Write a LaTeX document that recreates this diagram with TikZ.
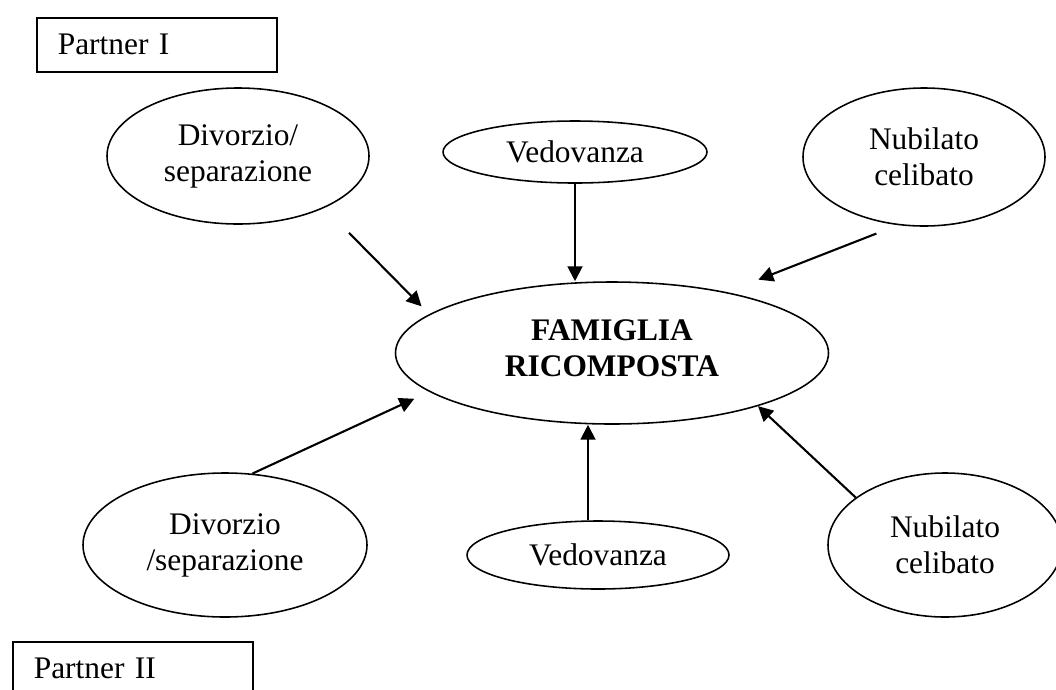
\documentclass[tikz,border=0pt]{standalone}
\usepackage{fontspec}
\setmainfont{Liberation Serif}
\usepackage{tikz}
\usetikzlibrary{shapes.geometric, arrows.meta, calc}
\newdimen\pix
\pix=0.382pt

\begin{document}
\begin{tikzpicture}[
			x=\pix, y=-\pix,
			font=\fontsize{12}{13.8}\selectfont,
			bolla/.style = {
				ellipse, draw, line width=0.6pt, inner sep=0pt, align=center
			},
			partner/.style = {
				rectangle, draw, line width=0.6pt, anchor=north west,
				minimum height=54\pix, text width=198\pix, inner xsep=21\pix, align=left
			},
			freccia/.style = {
				-{Triangle[length=5.7pt, width=5.7pt]}, line width=0.8pt
			}]
			\useasboundingbox (0,0) rectangle (1056,689);
			\clip (0,0) rectangle (1056,689);
			\node (p1) [partner] at (36,17) {Partner I};
			\node (p2) [partner] at (12,641) {Partner II};
			\node (div1) [bolla, minimum width=262\pix, minimum height=136\pix] at (238,156) {Divorzio/\\separazione};
			\node (ved1) [bolla, minimum width=264\pix, minimum height=62\pix] at (575,152) {Vedovanza};
			\node (nub1) [bolla, minimum width=242\pix, minimum height=138\pix] at (924,157) {Nubilato\\celibato};
			\node (fam) [bolla, minimum width=433\pix, minimum height=142\pix, text depth=0.38em] at (612,353) {\textbf{FAMIGLIA}\\\textbf{RICOMPOSTA}};
			\node (div2) [bolla, minimum width=284\pix, minimum height=144\pix] at (225,545) {Divorzio\\/separazione};
			\node (ved2) [bolla, minimum width=262\pix, minimum height=68\pix] at (598,555) {Vedovanza};
			\node (nub2) [bolla, minimum width=234\pix, minimum height=144\pix] at (945,545) {Nubilato\\celibato};
			\draw [freccia, shorten <=13.4pt, shorten >=4.2pt] (div1.-31.5) -- (fam.168.7);
			\draw [freccia] (ved1.south) -- (ved1.south |- fam.north);
			\draw [freccia, shorten <=8.8pt, shorten >=13pt] (nub1.249.3) -- (fam.28);
			\draw [freccia, shorten >=6.3pt] (div2.69.4) -- (fam.192.7);
			\draw [freccia] ($(ved2.north)+(-10,0)$) -- ($(ved2.north |- fam.south)+(-10,0)$);
			\draw [freccia] (nub2.152.4) -- (fam.340.7);
		\end{tikzpicture}
\end{document}
